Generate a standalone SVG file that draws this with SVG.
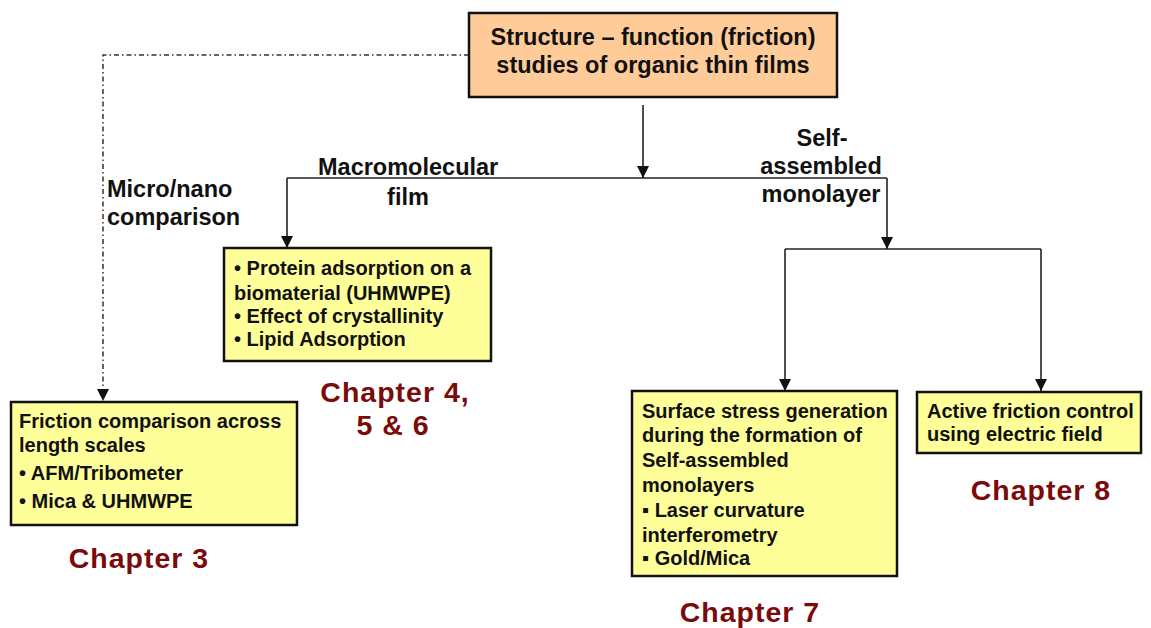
<svg xmlns="http://www.w3.org/2000/svg" width="1151" height="628" viewBox="0 0 1151 628">
<style>
.box{stroke:#111;stroke-width:2.5}
.peach{fill:#FFCC99}
.yellow{fill:#FFFF99}
.lbl{font-family:"Liberation Sans",Arial,sans-serif;font-weight:bold;font-size:23.5px;fill:#111}
.bt{font-family:"Liberation Sans",Arial,sans-serif;font-weight:bold;font-size:20px;fill:#111}
.ch{font-family:"Liberation Sans",Arial,sans-serif;font-weight:bold;font-size:28.5px;letter-spacing:1px;fill:#7B0A0A}
.con{fill:none;stroke:#222;stroke-width:1.6}
.dash{fill:none;stroke:#333;stroke-width:1.5;stroke-dasharray:5 3 1.5 3}
</style>
<defs>
<marker id="arr" markerUnits="userSpaceOnUse" markerWidth="12" markerHeight="12" viewBox="0 0 10 10" refX="10" refY="5" orient="auto">
<path d="M0,0 L10,5 L0,10 z" fill="#111"/>
</marker>
</defs>
<rect width="1151" height="628" fill="#fff"/>
<g id="connectors">
<line class="con" x1="643" y1="105" x2="643" y2="178" marker-end="url(#arr)"/>
<line class="con" x1="287" y1="178" x2="887" y2="178"/>
<line class="con" x1="287" y1="178" x2="287" y2="248" marker-end="url(#arr)"/>
<line class="con" x1="887" y1="178" x2="887" y2="249" marker-end="url(#arr)"/>
<line class="con" x1="785" y1="249" x2="1041" y2="249"/>
<line class="con" x1="785" y1="249" x2="785" y2="391" marker-end="url(#arr)"/>
<line class="con" x1="1041" y1="249" x2="1041" y2="391" marker-end="url(#arr)"/>
<polyline class="dash" points="469,55 103,55 103,401" marker-end="url(#arr)"/>
<text class="lbl" x="318" y="175">Macromolecular</text>
<text class="lbl" x="408" y="205" text-anchor="middle">film</text>
<text class="lbl" x="822" y="146" text-anchor="middle">Self-</text>
<text class="lbl" x="821" y="174" text-anchor="middle">assembled</text>
<text class="lbl" x="821" y="202" text-anchor="middle">monolayer</text>
<text class="lbl" x="107" y="197">Micro/nano</text>
<text class="lbl" x="107" y="225">comparison</text>
</g>
<g id="top">
<rect class="box peach" x="469" y="13" width="368" height="84"/>
<text class="lbl" x="653" y="45" text-anchor="middle">Structure – function (friction)</text>
<text class="lbl" x="653" y="73" text-anchor="middle">studies of organic thin films</text>
</g>
<g id="macro">
<rect class="box yellow" x="224" y="248" width="267" height="113"/>
<text class="bt" x="234" y="275">• Protein adsorption on a</text>
<text class="bt" x="234" y="300">biomaterial (UHMWPE)</text>
<text class="bt" x="234" y="323">• Effect of crystallinity</text>
<text class="bt" x="234" y="346">• Lipid Adsorption</text>
</g>
<g id="ch456">
<text class="ch" x="395" y="402" text-anchor="middle">Chapter 4,</text>
<text class="ch" x="393" y="435" text-anchor="middle">5 &amp; 6</text>
</g>
<g id="friction">
<rect class="box yellow" x="11" y="402" width="286" height="123"/>
<text class="bt" x="19" y="428">Friction comparison across</text>
<text class="bt" x="19" y="452">length scales</text>
<text class="bt" x="19" y="480">• AFM/Tribometer</text>
<text class="bt" x="19" y="508">• Mica &amp; UHMWPE</text>
</g>
<g id="ch3">
<text class="ch" x="139" y="568" text-anchor="middle">Chapter 3</text>
</g>
<g id="stress">
<rect class="box yellow" x="632" y="391" width="265" height="185"/>
<text class="bt" x="642" y="418">Surface stress generation</text>
<text class="bt" x="642" y="442">during the formation of</text>
<text class="bt" x="642" y="467">Self-assembled</text>
<text class="bt" x="642" y="492">monolayers</text>
<text class="bt" x="642" y="517">▪ Laser curvature</text>
<text class="bt" x="642" y="542">interferometry</text>
<text class="bt" x="642" y="565">▪ Gold/Mica</text>
</g>
<g id="ch7">
<text class="ch" x="750" y="622" text-anchor="middle">Chapter 7</text>
</g>
<g id="active">
<rect class="box yellow" x="917" y="392" width="224" height="61"/>
<text class="bt" x="927" y="418">Active friction control</text>
<text class="bt" x="927" y="441">using electric field</text>
</g>
<g id="ch8">
<text class="ch" x="1041" y="500" text-anchor="middle">Chapter 8</text>
</g>
</svg>
